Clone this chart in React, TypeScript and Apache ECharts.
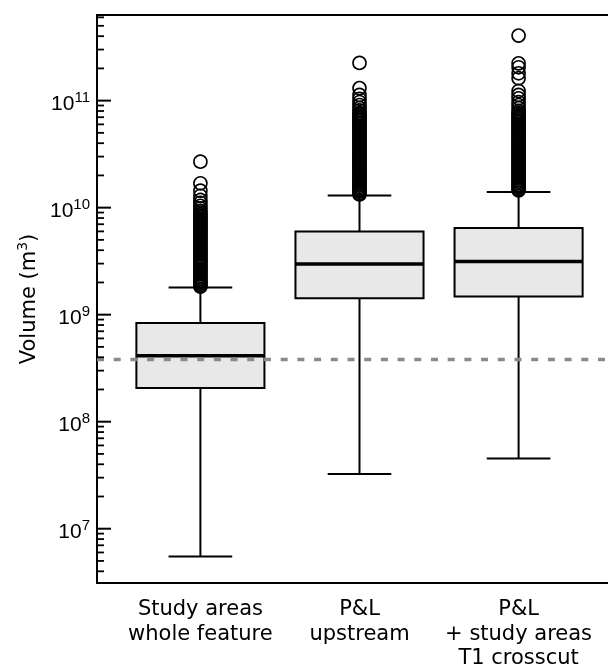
import React, { useEffect, useRef } from "react";
import * as echarts from "echarts";

// ---- data (volumes in m³) ----
const CATEGORIES = [
  "Study areas\nwhole feature",
  "P&L\nupstream",
  "P&L\n+ study areas\nT1 crosscut",
];
const LOWER_WHISKER = [5.49e6, 3.25e7, 4.54e7];
const Q1 = [2.06e8, 1.42e9, 1.48e9];
const MEDIAN = [4.13e8, 2.97e9, 3.14e9];
const Q3 = [8.36e8, 5.98e9, 6.44e9];
const UPPER_WHISKER = [1.79e9, 1.3e10, 1.4e10];

const OUTLIERS_STUDY = [
  2.69e10, 1.69e10, 1.44e10, 1.29e10, 1.18e10, 1.11e10, 1.04e10, 9.85e9, 9.33e9,
  9.0e9, 8.7e9, 8.4e9, 8.2e9, 7.9e9, 7.7e9, 7.4e9, 7.2e9, 7.0e9, 6.8e9, 6.6e9,
  6.4e9, 6.2e9, 6.0e9, 5.8e9, 5.6e9, 5.4e9, 5.25e9, 5.1e9, 4.9e9, 4.75e9, 4.6e9,
  4.45e9, 4.3e9, 4.15e9, 4.0e9, 3.9e9, 3.75e9, 3.65e9, 3.5e9, 3.4e9, 3.3e9,
  3.2e9, 3.1e9, 3.0e9, 2.9e9, 2.8e9, 2.7e9, 2.62e9, 2.54e9, 2.46e9, 2.38e9,
  2.3e9, 2.22e9, 2.15e9, 2.08e9, 2.01e9, 1.95e9, 1.89e9, 1.83e9,
];
const OUTLIERS_UPSTREAM = [
  2.25e11, 1.31e11, 1.13e11, 1.04e11, 9.7e10, 9.1e10, 8.55e10, 8.1e10, 7.67e10,
  7.5e10, 7.25e10, 7.0e10, 6.8e10, 6.6e10, 6.4e10, 6.2e10, 6.0e10, 5.8e10,
  5.6e10, 5.4e10, 5.25e10, 5.1e10, 4.9e10, 4.75e10, 4.6e10, 4.45e10, 4.3e10,
  4.15e10, 4.0e10, 3.9e10, 3.75e10, 3.65e10, 3.5e10, 3.4e10, 3.3e10, 3.2e10,
  3.1e10, 3.0e10, 2.9e10, 2.8e10, 2.7e10, 2.62e10, 2.54e10, 2.46e10, 2.38e10,
  2.3e10, 2.22e10, 2.15e10, 2.08e10, 2.01e10, 1.95e10, 1.89e10, 1.83e10,
  1.77e10, 1.71e10, 1.66e10, 1.61e10, 1.56e10, 1.51e10, 1.46e10, 1.42e10,
  1.37e10, 1.33e10,
];
const OUTLIERS_CROSSCUT = [
  4.05e11, 2.23e11, 2.05e11, 1.8e11, 1.62e11, 1.23e11, 1.13e11, 1.05e11, 9.7e10,
  9.1e10, 8.55e10, 8.0e10, 7.7e10, 7.45e10, 7.2e10, 7.0e10, 6.75e10, 6.5e10,
  6.3e10, 6.1e10, 5.9e10, 5.7e10, 5.5e10, 5.35e10, 5.2e10, 5.0e10, 4.85e10,
  4.7e10, 4.55e10, 4.4e10, 4.25e10, 4.1e10, 3.97e10, 3.85e10, 3.72e10, 3.6e10,
  3.48e10, 3.37e10, 3.26e10, 3.16e10, 3.06e10, 2.96e10, 2.86e10, 2.77e10,
  2.68e10, 2.6e10, 2.51e10, 2.43e10, 2.35e10, 2.28e10, 2.2e10, 2.13e10,
  2.06e10, 2.0e10, 1.93e10, 1.87e10, 1.81e10, 1.75e10, 1.7e10, 1.64e10,
  1.59e10, 1.54e10, 1.49e10, 1.45e10,
];
const OUTLIERS = [OUTLIERS_STUDY, OUTLIERS_UPSTREAM, OUTLIERS_CROSSCUT];

const REFERENCE_LINE = 3.8e8;

// axis
const Y_MIN = 3.11e6;
const Y_MAX = 6.31e11;
const Y_TICK_EXPONENTS = [7, 8, 9, 10, 11];
const MINOR_MULTIPLIERS = [2, 3, 4, 5, 6, 7, 8, 9];
const X_MIN = 0.35;
const X_MAX = 3.65;

const LABEL_FONT = '"DejaVu Sans", "Liberation Sans", Arial, sans-serif';
const TICK_FONT = '"Liberation Sans", Arial, Helvetica, sans-serif';
const BOX_WIDTH = 0.805;
const CAP_WIDTH = 0.4;
const MAJOR_TICK_LEN = 14;
const MINOR_TICK_LEN = 7;

export default function App() {
  const ref = useRef<HTMLDivElement>(null);

  useEffect(() => {
    if (!ref.current) return;
    const chart = echarts.init(ref.current, null, { renderer: "svg" });
    const lg = (v: number) => Math.log10(v);
    const yMin = lg(Y_MIN);
    const yMax = lg(Y_MAX);

    const minorTicks: number[] = [];
    for (let e = 6; e <= 11; e++) {
      for (const m of MINOR_MULTIPLIERS) {
        const t = lg(m * Math.pow(10, e));
        if (t > yMin && t < yMax) minorTicks.push(t);
      }
    }

    const boxData = CATEGORIES.map((_, i) => [
      i + 1,
      lg(LOWER_WHISKER[i]),
      lg(Q1[i]),
      lg(MEDIAN[i]),
      lg(Q3[i]),
      lg(UPPER_WHISKER[i]),
    ]);

    const outlierData: number[][] = [];
    OUTLIERS.forEach((arr, i) => arr.forEach((v) => outlierData.push([i + 1, lg(v)])));

    const axisLineStyle = { color: "#000", width: 2 };

    chart.setOption({
      animation: false,
      grid: {
        left: 97,
        top: 15,
        width: 525,
        height: 568,
        show: false,
        containLabel: false,
        outerBoundsMode: "none",
      },
      xAxis: [
        {
          type: "value",
          position: "bottom",
          min: X_MIN,
          max: X_MAX,
          axisLine: { show: true, onZero: false, lineStyle: axisLineStyle },
          axisTick: { show: false },
          splitLine: { show: false },
          axisLabel: {
            customValues: [1, 2, 3],
            formatter: (v: number) => CATEGORIES[Math.round(v) - 1],
            color: "#000",
            fontFamily: LABEL_FONT,
            fontSize: 21,
            lineHeight: 24.5,
            margin: 13,
            align: "center",
          },
        },
        {
          type: "value",
          position: "top",
          min: X_MIN,
          max: X_MAX,
          axisLine: { show: true, onZero: false, lineStyle: axisLineStyle },
          axisTick: { show: false },
          splitLine: { show: false },
          axisLabel: { show: false },
        },
      ],
      yAxis: {
        type: "value",
        min: yMin,
        max: yMax,
        name: "{a|Volume (m}{s|3}{a|)}",
        nameLocation: "middle",
        nameGap: 57,
        nameRotate: 90,
        nameTextStyle: {
          rich: {
            a: { fontFamily: LABEL_FONT, fontSize: 21, color: "#000", lineHeight: 25 },
            s: { fontFamily: LABEL_FONT, fontSize: 14, color: "#000", verticalAlign: "top", lineHeight: 25 },
          },
        },
        axisLine: { show: true, onZero: false, lineStyle: axisLineStyle },
        axisTick: { show: false },
        splitLine: { show: false },
        axisLabel: {
          customValues: Y_TICK_EXPONENTS,
          formatter: (v: number) => `{b|10}{s|${Math.round(v)}}`,
          margin: 7,
          rich: {
            b: { fontFamily: TICK_FONT, fontSize: 21, color: "#000", lineHeight: 24, verticalAlign: "bottom" },
            s: { fontFamily: TICK_FONT, fontSize: 15, color: "#000", lineHeight: 24, verticalAlign: "top" },
          },
        },
      },
      series: [
        {
          type: "custom",
          data: boxData,
          encode: { x: 0, y: [1, 2, 3, 4, 5] },
          renderItem: (params: any, api: any) => {
            const x = api.value(0);
            const lo = api.coord([x, api.value(1)]);
            const q1 = api.coord([x, api.value(2)]);
            const med = api.coord([x, api.value(3)]);
            const q3 = api.coord([x, api.value(4)]);
            const hi = api.coord([x, api.value(5)]);
            const bw = api.size([BOX_WIDTH, 0])[0];
            const cw = api.size([CAP_WIDTH, 0])[0];
            const cx = lo[0];
            const stroke = { stroke: "#000", lineWidth: 2 };
            return {
              type: "group",
              children: [
                { type: "line", shape: { x1: cx, y1: q3[1], x2: cx, y2: hi[1] }, style: stroke },
                { type: "line", shape: { x1: cx, y1: q1[1], x2: cx, y2: lo[1] }, style: stroke },
                { type: "line", shape: { x1: cx - cw / 2, y1: hi[1], x2: cx + cw / 2, y2: hi[1] }, style: stroke },
                { type: "line", shape: { x1: cx - cw / 2, y1: lo[1], x2: cx + cw / 2, y2: lo[1] }, style: stroke },
                {
                  type: "rect",
                  shape: { x: cx - bw / 2, y: q3[1], width: bw, height: q1[1] - q3[1] },
                  style: { fill: "#e8e8e8", stroke: "#000", lineWidth: 2 },
                },
                {
                  type: "line",
                  shape: { x1: cx - bw / 2, y1: med[1], x2: cx + bw / 2, y2: med[1] },
                  style: { stroke: "#000", lineWidth: 3.4 },
                },
              ],
            };
          },
        },
        {
          type: "scatter",
          symbol: "circle",
          symbolSize: 13,
          data: outlierData,
          itemStyle: { color: "rgba(0,0,0,0)", borderColor: "#000", borderWidth: 1.6, opacity: 1 },
        },
        {
          type: "line",
          data: [],
          markLine: {
            silent: true,
            symbol: "none",
            label: { show: false },
            lineStyle: { color: "#8a8a8a", width: 3.3, type: [7, 9.7] },
            data: [{ yAxis: lg(REFERENCE_LINE) }],
          },
        },
      ],
    });

    // log-axis ticks placed through the chart's own coordinate conversion
    const tick = (t: number, len: number, width: number) => {
      const p = chart.convertToPixel({ xAxisIndex: 0, yAxisIndex: 0 }, [X_MIN, t]) as number[];
      return {
        type: "line",
        z: 100,
        shape: { x1: p[0], y1: p[1], x2: p[0] + len, y2: p[1] },
        style: { stroke: "#000", lineWidth: width },
      };
    };
    chart.setOption({
      graphic: [
        ...Y_TICK_EXPONENTS.map((t) => tick(t, MAJOR_TICK_LEN, 2)),
        ...minorTicks.map((t) => tick(t, MINOR_TICK_LEN, 1.8)),
      ],
    });

    return () => chart.dispose();
  }, []);

  return (
    <div
      ref={ref}
      style={{ position: "fixed", left: 0, top: 0, width: 608, height: 672 }}
    />
  );
}
